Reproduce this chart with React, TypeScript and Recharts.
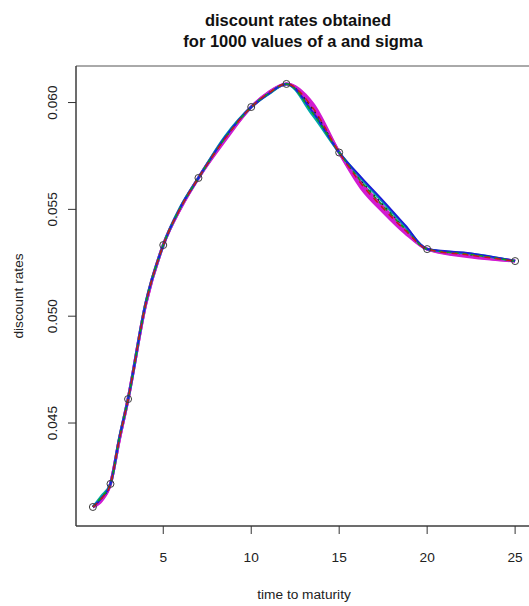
import React from "react";
import { LineChart, Line, XAxis, YAxis, ReferenceArea } from "recharts";

// observed zero rates (circles)
const maturities = [1, 2, 3, 5, 7, 10, 12, 15, 20, 25];
const observedRates = [0.04107, 0.04215, 0.04612, 0.05333, 0.05647, 0.05979, 0.06087, 0.05766, 0.05314, 0.05258];

// maturities at which the fitted curves are sampled
const gridT = [1, 1.5, 2, 2.5, 3, 4, 5, 6, 7, 8.5, 10, 11, 12, 13.5, 15, 16.25, 17.5, 18.75, 20, 22.5, 25];

// fitted curves for a few (a, sigma) draws
const fitMagenta = [0.04107, 0.04137, 0.04215, 0.0442, 0.04612, 0.05054, 0.05333, 0.05507, 0.05647, 0.05822, 0.05979, 0.06048, 0.06087, 0.05995, 0.05766, 0.056, 0.05488, 0.05389, 0.05314, 0.05277, 0.05258];
const fitMagenta2 = [0.04107, 0.04142, 0.04215, 0.04422, 0.04612, 0.05056, 0.05333, 0.05509, 0.05647, 0.05826, 0.05979, 0.06046, 0.06087, 0.05985, 0.05766, 0.05612, 0.055, 0.05397, 0.05314, 0.05281, 0.05258];
const fitMagenta3 = [0.04107, 0.04146, 0.04215, 0.04424, 0.04612, 0.05058, 0.05333, 0.05511, 0.05647, 0.05832, 0.05979, 0.06045, 0.06087, 0.05972, 0.05766, 0.05625, 0.05512, 0.05405, 0.05314, 0.05286, 0.05258];
const fitBlack = [0.04107, 0.04149, 0.04215, 0.04425, 0.04612, 0.05058, 0.05333, 0.05511, 0.05647, 0.05834, 0.05979, 0.06044, 0.06087, 0.05968, 0.05766, 0.05635, 0.05522, 0.05413, 0.05314, 0.05288, 0.05258];
const fitCyan = [0.04107, 0.0416, 0.04215, 0.0443, 0.04612, 0.05062, 0.05333, 0.05515, 0.05647, 0.0584, 0.05979, 0.0604, 0.06087, 0.0594, 0.05766, 0.05645, 0.05532, 0.0542, 0.05314, 0.05292, 0.05258];
const fitBlue = [0.04107, 0.0415, 0.04215, 0.04428, 0.04612, 0.0506, 0.05333, 0.05513, 0.05647, 0.05836, 0.05979, 0.06042, 0.06087, 0.05955, 0.05766, 0.0565, 0.0554, 0.05426, 0.05314, 0.05294, 0.05258];
const fitGreen = [0.04107, 0.04154, 0.04215, 0.04426, 0.04612, 0.05058, 0.05333, 0.05511, 0.05647, 0.05832, 0.05979, 0.06043, 0.06087, 0.0595, 0.05766, 0.0563, 0.05515, 0.05408, 0.05314, 0.05289, 0.05258];
const fitRed = [0.04107, 0.04148, 0.04215, 0.04424, 0.04612, 0.05057, 0.05333, 0.0551, 0.05647, 0.0583, 0.05979, 0.06045, 0.06087, 0.05975, 0.05766, 0.0562, 0.05505, 0.05402, 0.05314, 0.05285, 0.05258];

const xTicks = [5, 10, 15, 20, 25];
const yTicks = [0.045, 0.05, 0.055, 0.06];

const X_DOMAIN: [number, number] = [0.04, 25.96];
const Y_DOMAIN: [number, number] = [0.04018, 0.06171];

const FONT = "'Liberation Sans', Arial, Helvetica, sans-serif";

// drawn in order: wide magenta underneath, dashed lines on top
const series = [
  { name: "magenta", values: fitMagenta, color: "#d21bd2", width: 3, dash: undefined },
  { name: "magenta2", values: fitMagenta2, color: "#d21bd2", width: 3, dash: undefined },
  { name: "magenta3", values: fitMagenta3, color: "#cc22cc", width: 3, dash: undefined },
  { name: "black", values: fitBlack, color: "#202020", width: 1.5, dash: "2 4" },
  { name: "cyan", values: fitCyan, color: "#00a8a8", width: 2.5, dash: undefined },
  { name: "blue", values: fitBlue, color: "#1c1cd8", width: 2, dash: undefined },
  { name: "green", values: fitGreen, color: "#10a010", width: 1.5, dash: "4 4" },
  { name: "red", values: fitRed, color: "#c81818", width: 1.5, dash: "6 5" },
];

const observed = maturities.map((t, i) => ({ t, r: observedRates[i] }));

const XTick = ({ x, y, payload }: any) => (
  <text x={x} y={y + 26} textAnchor="middle" fontSize={13.7} fill="#222" fontFamily={FONT}>
    {payload.value}
  </text>
);

const YTick = ({ x, y, payload }: any) => (
  <text
    x={x - 9}
    y={y}
    transform={`rotate(-90, ${x - 9}, ${y})`}
    textAnchor="middle"
    fontSize={13.7}
    fill="#222"
    fontFamily={FONT}
  >
    {payload.value.toFixed(3)}
  </text>
);

const titleLine: React.CSSProperties = {
  position: "absolute",
  width: 400,
  textAlign: "center",
  whiteSpace: "nowrap",
  lineHeight: "20px",
};

export default function App() {
  return (
    <div style={{ position: "absolute", left: 0, top: 0, width: 529, height: 606, overflow: "hidden", background: "#fff" }}>
      <div style={{ position: "absolute", left: 0, top: 0, width: 529, fontFamily: FONT, fontWeight: "bold", fontSize: 16.5, color: "#111" }}>
        <div style={{ ...titleLine, top: 10, left: 98 }}>discount rates obtained</div>
        <div style={{ ...titleLine, top: 31, left: 103 }}>for 1000 values of a and sigma</div>
      </div>
      <LineChart width={545} height={606} margin={{ top: 66, right: 13, bottom: 0, left: 0 }}>
        <XAxis
          dataKey="t"
          type="number"
          domain={X_DOMAIN}
          ticks={xTicks}
          allowDataOverflow
          height={80}
          tickSize={8}
          tick={<XTick />}
          axisLine={{ stroke: "#333" }}
          tickLine={{ stroke: "#333" }}
          label={() => (
            <text x={304} y={598.5} textAnchor="middle" fontSize={13.7} fill="#222" fontFamily={FONT}>
              time to maturity
            </text>
          )}
        />
        <YAxis
          type="number"
          domain={Y_DOMAIN}
          ticks={yTicks}
          allowDataOverflow
          width={76}
          tickSize={8}
          tick={<YTick />}
          axisLine={{ stroke: "#333" }}
          tickLine={{ stroke: "#333" }}
          label={() => (
            <text
              x={23}
              y={296}
              transform="rotate(-90, 23, 296)"
              textAnchor="middle"
              fontSize={13.7}
              fill="#222"
              fontFamily={FONT}
            >
              discount rates
            </text>
          )}
        />
        <ReferenceArea
          x1={X_DOMAIN[0]}
          x2={X_DOMAIN[1]}
          y1={Y_DOMAIN[0]}
          y2={Y_DOMAIN[1]}
          fill="none"
          stroke="#555"
          strokeWidth={1}
        />
        {series.map((s) => (
          <Line
            key={s.name}
            data={gridT.map((t, i) => ({ t, r: s.values[i] }))}
            dataKey="r"
            type="monotone"
            stroke={s.color}
            strokeWidth={s.width}
            strokeDasharray={s.dash}
            dot={false}
            activeDot={false}
            isAnimationActive={false}
          />
        ))}
        <Line
          data={observed}
          dataKey="r"
          stroke="none"
          dot={{ r: 3.5, fill: "none", stroke: "#3a3a3a", strokeWidth: 1 }}
          activeDot={false}
          isAnimationActive={false}
        />
      </LineChart>
    </div>
  );
}
